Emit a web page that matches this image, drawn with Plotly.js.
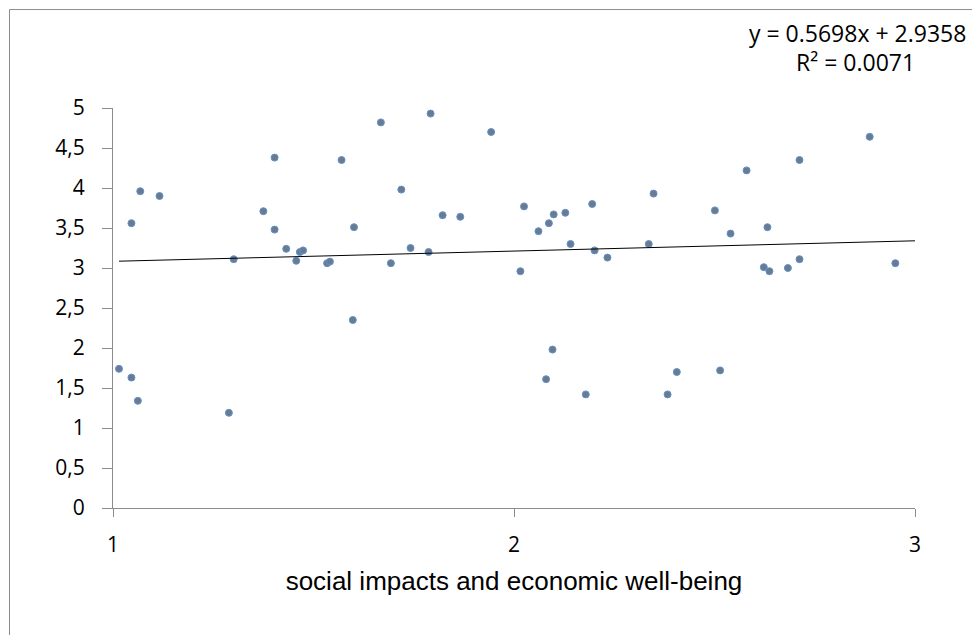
<!DOCTYPE html>
<html>
<head>
<meta charset="utf-8">
<script src="https://cdn.plot.ly/plotly-3.0.1.min.js"></script>
<style>
html,body{margin:0;padding:0;background:#fff;}
#chart{width:972px;height:635px;}
</style>
</head>
<body>
<div id="chart"></div>
<script>
// Data
const xValues = [
  1.046, 1.068, 1.116, 1.301, 1.375, 1.403, 1.403, 1.432, 1.457, 1.466,
  1.474, 1.534, 1.541, 1.570, 1.601, 1.668, 1.693, 1.719, 1.742, 1.787,
  1.792, 1.822, 1.866, 1.943, 2.016, 2.025, 2.061, 2.087, 2.099, 2.128,
  2.141, 2.195, 2.201, 2.233, 2.336, 2.348, 2.501, 2.540, 2.580, 2.623,
  2.632, 2.637, 2.683, 2.712, 2.712, 2.887, 2.951, 1.015, 1.046, 1.062,
  1.289, 1.598, 2.096, 2.080, 2.179, 2.406, 2.383, 2.514
];
const yValues = [
  3.56, 3.96, 3.90, 3.11, 3.71, 4.38, 3.48, 3.24, 3.09, 3.20,
  3.22, 3.06, 3.08, 4.35, 3.51, 4.82, 3.06, 3.98, 3.25, 3.20,
  4.93, 3.66, 3.64, 4.70, 2.96, 3.77, 3.46, 3.56, 3.67, 3.69,
  3.30, 3.80, 3.22, 3.13, 3.30, 3.93, 3.72, 3.43, 4.22, 3.01,
  3.51, 2.96, 3.00, 4.35, 3.11, 4.64, 3.06, 1.74, 1.63, 1.34,
  1.19, 2.35, 1.98, 1.61, 1.42, 1.70, 1.42, 1.72
];
// Trend line as drawn in the picture (end points)
const trendX = [1.015, 3.0];
const trendY = [3.085, 3.34];
const equationText = "y = 0.5698x + 2.9358";
const r2Text = "R² = 0.0071";
const xTitle = "social impacts and economic well-being";
const xTicks = [1, 2, 3];
const yTicks = [0, 0.5, 1, 1.5, 2, 2.5, 3, 3.5, 4, 4.5, 5];

const baseFont = "Open Sans, Noto Sans, sans-serif";

const traces = [
  {
    x: xValues, y: yValues, type: "scatter", mode: "markers",
    marker: {size: 7, color: "#6c7b8b", line: {color: "#5f93d3", width: 1}},
    hoverinfo: "x+y", showlegend: false
  },
  {
    x: trendX, y: trendY, type: "scatter", mode: "lines",
    line: {color: "#000000", width: 1}, hoverinfo: "skip", showlegend: false
  }
];

const layout = {
  width: 972, height: 635,
  margin: {l: 113, r: 57, t: 108, b: 127, pad: 0},
  paper_bgcolor: "#ffffff", plot_bgcolor: "#ffffff",
  separators: ",.",
  showlegend: false,
  font: {family: baseFont, size: 20, color: "#000"},
  xaxis: {
    range: [1, 3], tickvals: xTicks, ticktext: xTicks.map(String),
    showgrid: false, zeroline: false,
    showline: true, linecolor: "#8c8c8c", linewidth: 1,
    ticks: "outside", ticklen: 8, tickcolor: "#8c8c8c", tickwidth: 1,
    ticklabelstandoff: 10,
    tickfont: {family: baseFont, size: 21, color: "#000"},
    title: {text: xTitle, font: {family: "Liberation Sans, Arial, sans-serif", size: 26, color: "#000"}, standoff: 14}
  },
  yaxis: {
    range: [0, 5], tickvals: yTicks,
    showgrid: false, zeroline: false,
    showline: true, linecolor: "#8c8c8c", linewidth: 1,
    ticks: "outside", ticklen: 10, tickcolor: "#8c8c8c", tickwidth: 1,
    ticklabelstandoff: 13,
    tickfont: {family: baseFont, size: 21, color: "#000"}
  },
  annotations: [
    {xref: "paper", yref: "paper", x: (857 - 113) / 802, y: (507.7 - 33) / 399.4,
     xanchor: "center", yanchor: "middle", text: equationText, showarrow: false,
     font: {family: baseFont, size: 23, color: "#000"}},
    {xref: "paper", yref: "paper", x: (855 - 113) / 802, y: (507.7 - 62) / 399.4,
     xanchor: "center", yanchor: "middle", text: r2Text, showarrow: false,
     font: {family: baseFont, size: 23, color: "#000"}}
  ],
  shapes: [
    {type: "rect", xref: "paper", yref: "paper",
     x0: (9.5 - 113) / 802, x1: (990 - 113) / 802,
     y0: (507.7 - 660) / 399.4, y1: (507.7 - 10) / 399.4,
     line: {color: "#8c8c8c", width: 1}, layer: "below"}
  ]
};

Plotly.newPlot("chart", traces, layout, {displayModeBar: false, staticPlot: true});
</script>
</body>
</html>
